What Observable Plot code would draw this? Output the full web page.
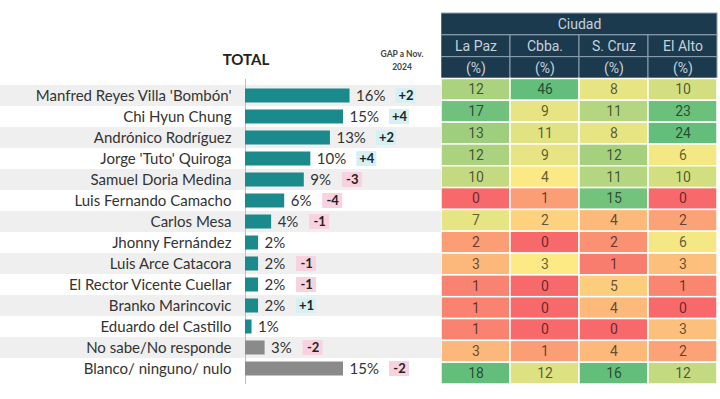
<!DOCTYPE html>
<html><head><meta charset="utf-8">
<script src="https://cdn.jsdelivr.net/npm/d3@7"></script>
<script src="https://cdn.jsdelivr.net/npm/@observablehq/plot@0.6"></script>
<style>
body{margin:0;background:#fff;}
#wrap{position:relative;width:720px;height:399px;overflow:hidden;font-family:Lato,sans-serif;}
#left{position:absolute;left:0;top:0;}
#right{position:absolute;left:441px;top:0;}
#total{position:absolute;left:196px;width:100px;top:50px;text-align:center;font:bold 15px Lato,sans-serif;color:#222;}
#gap{position:absolute;left:372px;width:60px;top:48px;text-align:center;font:bold 8.5px Lato,sans-serif;color:#444;line-height:13px;}
</style></head><body>
<div id="wrap"><div id="left"></div><div id="right"></div>
<div id="total">TOTAL</div><div id="gap">GAP a Nov.<br>2024</div></div>
<script>
const candidates = ["Manfred Reyes Villa 'Bombón'","Chi Hyun Chung","Andrónico Rodríguez","Jorge 'Tuto' Quiroga","Samuel Doria Medina","Luis Fernando Camacho","Carlos Mesa","Jhonny Fernández","Luis Arce Catacora","El Rector Vicente Cuellar","Branko Marincovic","Eduardo del Castillo","No sabe/No responde","Blanco/ ninguno/ nulo"];
const totals = [16,15,13,10,9,6,4,2,2,2,2,1,3,15];
const gaps = [2,4,2,4,-3,-4,-1,null,-1,-1,1,null,-2,-2];
const nonCandidate = [false,false,false,false,false,false,false,false,false,false,false,false,true,true];
const cities = ["La Paz","Cbba.","S. Cruz","El Alto"];
const laPaz = [12,17,13,12,10,0,7,2,3,1,1,1,3,18];
const cbba = [46,9,11,9,4,1,2,0,3,0,0,0,1,12];
const sCruz = [8,11,8,12,11,15,4,2,1,5,4,0,4,16];
const elAlto = [10,23,24,6,10,0,2,6,3,1,0,3,2,12];

const rows = candidates.map((name,i)=>({name, i, value: totals[i], gap: gaps[i], other: nonCandidate[i]}));
const xMax = 30;
const withGap = rows.filter(d=>d.gap!=null);
const badgeMarks = (sub, off) => [
  Plot.barX(sub, {x1:"value", x2:"value", y:"name", dx: off, insetRight:-20, insetTop:3, insetBottom:3,
    fill: d=>d.gap>0?"#d5f1f4":"#f8d2de"}),
  Plot.text(sub, {x:"value", y:"name", dx: off+10, text: d=>(d.gap>0?"+":"")+d.gap,
    fontWeight:"bold", fontSize:13, fill:"#222"})
];
const left = Plot.plot({
  width:441, height:399, marginLeft:245, marginRight:0, marginTop:79, marginBottom:15,
  style:{fontFamily:"Lato, sans-serif", background:"transparent"},
  x:{domain:[0,xMax], axis:null},
  y:{domain:candidates, padding:0, axis:null, label:null},
  marks:[
    Plot.barX(rows.filter(d=>d.i%2===0), {x1:0, x2:xMax, y:"name", fill:"#efefef", insetLeft:-245}),
    Plot.ruleX([0], {stroke:"#bdbdbd"}),
    Plot.barX(rows.filter(d=>!d.other), {x:"value", y:"name", fill:"#1a8a8c", insetTop:3.5, insetBottom:3.5}),
    Plot.barX(rows.filter(d=>d.other), {x:"value", y:"name", fill:"#8a8a8a", insetTop:3.5, insetBottom:3.5}),
    Plot.text(rows, {x:"value", y:"name", text:d=>d.value+"%", dx:6, textAnchor:"start", fontSize:15, fill:"#333"}),
    ...badgeMarks(withGap.filter(d=>d.value>=10), 46),
    ...badgeMarks(withGap.filter(d=>d.value<10), 38),
    Plot.axisY({tickSize:0, tickPadding:14, fontSize:15, color:"#333", label:null})
  ]
});
document.getElementById("left").append(left);

const cols = [laPaz, cbba, sCruz, elAlto];
const cells = [];
cols.forEach((vals,c)=>{
  const mn=d3.min(vals), md=d3.median(vals), mx=d3.max(vals);
  vals.forEach((v,r)=>cells.push({c, r, v, t: v<=md ? 0.5*(v-mn)/(md-mn) : 0.5+0.5*(v-md)/(mx-md)}));
});
const header = [{c1:0,c2:4,r:-3,label:"Ciudad"},
  ...cities.map((n,c)=>({c1:c,c2:c+1,r:-2,label:n})),
  ...cities.map((n,c)=>({c1:c,c2:c+1,r:-1,label:"(%)"}))];
const right = Plot.plot({
  width:277, height:399, marginLeft:0, marginRight:1, marginTop:13, marginBottom:15,
  style:{fontFamily:"Roboto, sans-serif", background:"transparent"},
  x:{domain:[0,4], axis:null},
  y:{domain:[-3,14], reverse:true, axis:null},
  color:{type:"linear", domain:[0,0.5,1], range:["#f8696b","#ffeb84","#63be7b"], interpolate:"rgb"},
  marks:[
    Plot.rect(header, {x1:"c1", x2:"c2", y1:"r", y2:d=>d.r+1, fill:"#1c3a4e", stroke:"#8da2b2", strokeWidth:1}),
    Plot.text(header, {x:d=>(d.c1+d.c2)/2, y:d=>d.r+0.5, text:"label", fill:"#c6d1db", fontSize:14}),
    Plot.rect(cells, {x1:"c", x2:d=>d.c+1, y1:"r", y2:d=>d.r+1, fill:"t", stroke:"white", strokeWidth:1.5}),
    Plot.text(cells, {x:d=>d.c+0.5, y:d=>d.r+0.5, text:"v", fill:"black", fillOpacity:0.62, fontSize:14})
  ]
});
document.getElementById("right").append(right);
</script>
</body></html>
